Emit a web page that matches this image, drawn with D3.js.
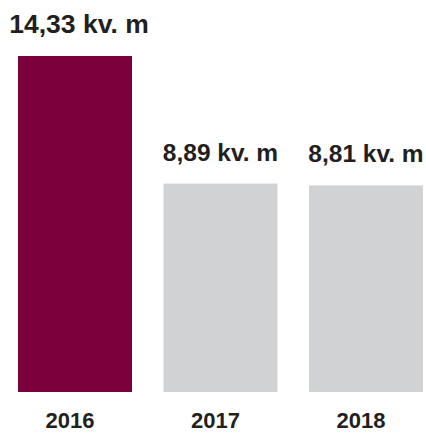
<!DOCTYPE html>
<html>
<head>
<meta charset="utf-8">
<script src="https://cdn.jsdelivr.net/npm/d3@7"></script>
<style>
  html, body { margin: 0; padding: 0; background: #ffffff; }
  svg { display: block; }
</style>
</head>
<body>
<svg id="chart" width="426" height="434"></svg>
<script>
const years = ["2016", "2017", "2018"];
const values = [14.33, 8.89, 8.81];
const valueLabels = ["14,33 kv. m", "8,89 kv. m", "8,81 kv. m"];
const barColors = ["#7b003c", "#d1d2d4", "#d1d2d4"];

const svg = d3.select("#chart");
const baseline = 392;
const topY = 56;

const x = d3.scaleBand().domain(years).range([18, 423]).paddingInner(0.2165).paddingOuter(0);
const y = d3.scaleLinear().domain([0, values[0]]).range([baseline, topY]);

const data = years.map((yr, i) => ({ yr, v: values[i], label: valueLabels[i], color: barColors[i] }));

svg.selectAll("rect.bar").data(data).join("rect")
  .attr("class", "bar")
  .attr("x", d => x(d.yr))
  .attr("y", d => y(d.v))
  .attr("width", x.bandwidth())
  .attr("height", d => baseline - y(d.v))
  .attr("fill", d => d.color);

svg.selectAll("text.val").data(data).join("text")
  .attr("class", "val")
  .attr("x", d => x(d.yr) + x.bandwidth() / 2 + (d.yr === "2016" ? 4 : 0))
  .attr("y", d => y(d.v) - 23)
  .attr("text-anchor", "middle")
  .attr("font-family", "'Liberation Sans', Arial, sans-serif")
  .attr("font-weight", "bold")
  .attr("font-size", d => d.yr === "2016" ? "26.5px" : "24.5px")
  .attr("fill", "#231f20")
  .text(d => d.label);

const xAxis = d3.axisBottom(x).tickSize(0).tickPadding(0);
const gx = svg.append("g").attr("transform", `translate(-5, ${baseline})`).call(xAxis);
gx.select(".domain").remove();
gx.selectAll("text")
  .attr("y", 36)
  .attr("dy", null)
  .attr("font-family", "'Liberation Sans', Arial, sans-serif")
  .attr("font-weight", "bold")
  .attr("font-size", "22px")
  .attr("fill", "#231f20");
</script>
</body>
</html>
